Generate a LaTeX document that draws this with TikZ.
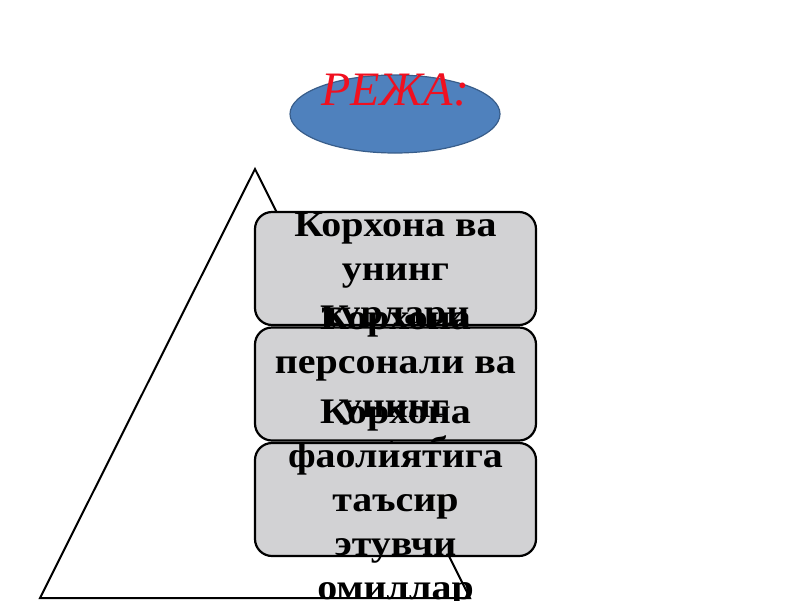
\documentclass[tikz,border=0pt]{standalone}
\usepackage{fontspec}
\setmainfont{Liberation Serif}
\newfontfamily\boxfont{Liberation Serif}[FakeStretch=1.11]
\usetikzlibrary{shapes.geometric}
\definecolor{ellfill}{HTML}{4F81BD}
\definecolor{elldraw}{HTML}{385D8A}
\definecolor{boxfill}{HTML}{D2D2D4}
\definecolor{titlered}{HTML}{F01020}
\tikzset{
  boxshape/.style={draw=black, line width=2.2pt, fill=boxfill, rounded corners=17pt,
    minimum width=281pt, minimum height=113pt, inner sep=0pt, outer sep=0pt},
  boxtext/.style={align=center, inner sep=0pt, text=black,
    font=\boxfont\bfseries\fontsize{36}{44}\selectfont},
  ovalshape/.style={ellipse, draw=elldraw, line width=1.2pt, fill=ellfill,
    minimum width=210pt, minimum height=78pt, inner sep=0pt},
  titletext/.style={text=titlered, inner sep=0pt, anchor=base,
    font=\itshape\fontsize{48}{58}\selectfont},
  triline/.style={draw=black, line width=2pt, line join=miter}
}
\begin{document}
\begin{tikzpicture}[x=1pt,y=-1pt]
\useasboundingbox (0,0) rectangle (800,600);
% triangle
\coordinate (apex) at (255,169);
\coordinate (bl) at (40,598);
\coordinate (br) at (470,598);
\draw[triline] (apex) -- (bl) -- (br) -- cycle;
% title ellipse
\node[ovalshape] (oval) at (395,114) {};
\node[titletext] (title) at (395,105) {РЕЖА:};
% boxes
\node[boxshape] (b1) at (395.5,268.5) {};
\node[boxtext] (t1) at ([yshift=-4pt]b1.center) {Корхона ва\\унинг\\турлари};
\node[boxshape] (b2) at (395.5,384) {};
\node[boxtext] (t2) at ([yshift=-4pt]b2.center) {Корхона\\персонали ва\\унинг\\таркиби};
\node[boxshape] (b3) at (395.5,499.5) {};
\node[boxtext] (t3) at ([yshift=-4pt]b3.center) {Корхона\\фаолиятига\\таъсир\\этувчи\\омиллар};
\end{tikzpicture}
\end{document}
